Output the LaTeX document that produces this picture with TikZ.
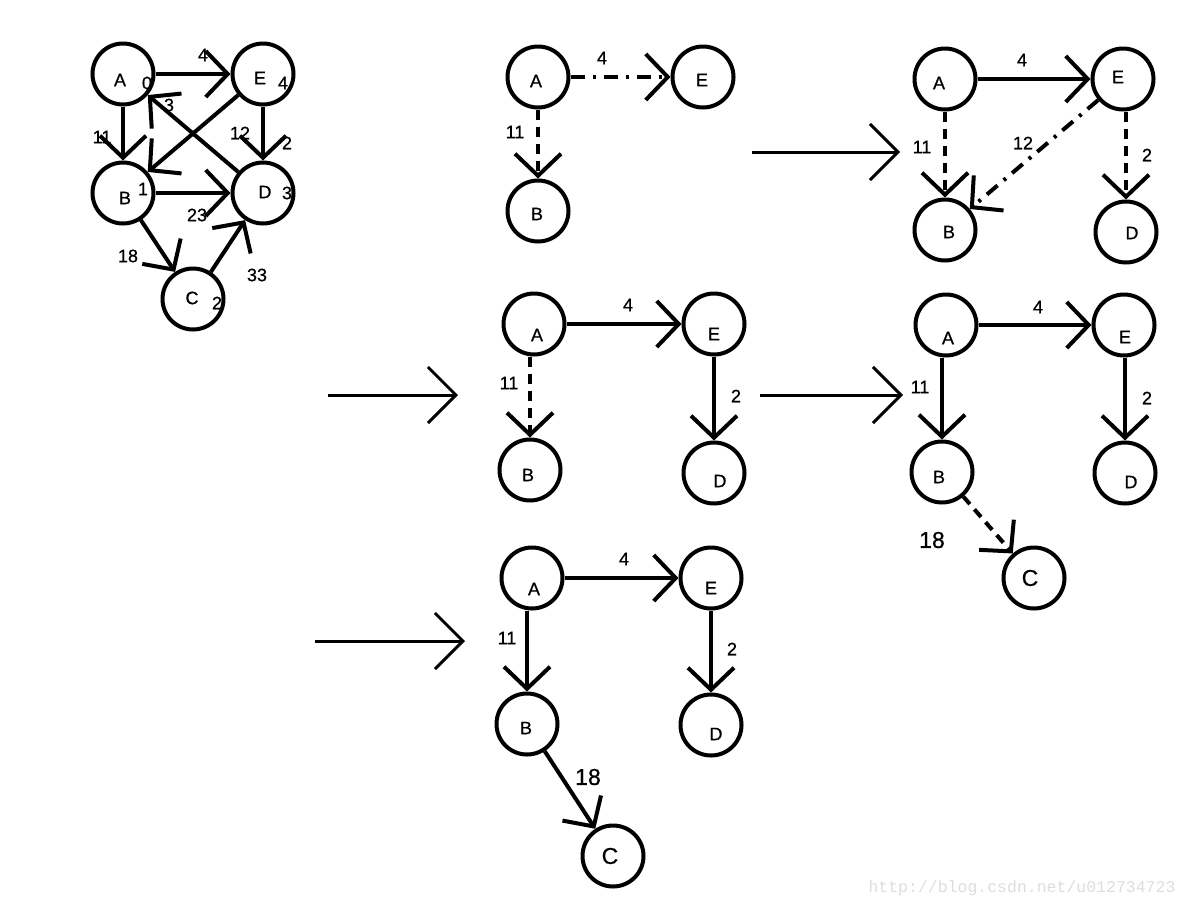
\documentclass[tikz,border=0pt]{standalone}
\usepackage{fontspec}
\setmainfont{Liberation Sans}
\newfontfamily\labfont{Liberation Sans}[FakeBold=0.7]
\newfontfamily\wmfont{Liberation Mono}
\usetikzlibrary{arrows.meta}
\begin{document}
\begin{tikzpicture}[x=1pt,y=-1pt,
  vert/.style={circle,draw,line width=4pt,minimum size=61pt,inner sep=0pt},
  lab/.style={font=\labfont\fontsize{18}{20}\selectfont,inner sep=0pt},
  big/.style={font=\labfont\fontsize{23}{26}\selectfont,inner sep=0pt},
  edge/.style={line width=4pt,-{Straight Barb[length=22pt,width=46pt]}},
  dsh/.style={edge,dash pattern=on 10pt off 7pt},
  dshdot/.style={edge,dash pattern=on 14pt off 8pt on 3pt off 8pt},
  bigarrow/.style={line width=3pt,-{Straight Barb[length=28pt,width=56pt]}}
]
\useasboundingbox (0,0) rectangle (1188,908);
\fill[white] (0,0) rectangle (1188,908);

% ---------- Graph 1 ----------
\node[vert] (A1) at (123,74) {};
\node[vert] (E1) at (263,74) {};
\node[vert] (B1) at (123,193) {};
\node[vert] (D1) at (263,193) {};
\node[vert] (C1) at (193,299) {};
\node[lab] at (120,80) {A};
\node[lab] at (147,83) {0};
\node[lab] at (260,78) {E};
\node[lab] at (283,83) {4};
\node[lab] at (125,198) {B};
\node[lab] at (143,189) {1};
\node[lab] at (265,192) {D};
\node[lab] at (287,193) {3};
\node[lab] at (192,298) {C};
\node[lab] at (217,303) {2};
\draw[edge] (A1) -- (E1);
\draw[edge] (A1) -- (B1);
\draw[edge] (E1) -- (D1);
\draw[edge] (B1) -- (D1);
\draw[edge] (E1) -- (B1);
\draw[edge] (D1) -- (A1);
\draw[edge] (B1) -- (C1);
\draw[edge] (C1) -- (D1);
\node[lab] at (203,55) {4};
\node[lab] at (169,105) {3};
\node[lab] at (102,137) {11};
\node[lab] at (240,133) {12};
\node[lab] at (287,143) {2};
\node[lab] at (197,215) {23};
\node[lab] at (128,256) {18};
\node[lab] at (257,275) {33};

% ---------- Graph 2 ----------
\node[vert] (A2) at (538,77) {};
\node[vert] (E2) at (703,77) {};
\node[vert] (B2) at (538,211) {};
\node[lab] at (536,81) {A};
\node[lab] at (702,80) {E};
\node[lab] at (537,214) {B};
\draw[dshdot] (A2) -- (E2);
\draw[dsh] (A2) -- (B2);
\node[lab] at (602,58) {4};
\node[lab] at (515,132) {11};

% ---------- Arrow 1 ----------
\coordinate (s1) at (752,152);
\coordinate (t1) at (900,152);
\draw[bigarrow] (s1) -- (t1);

% ---------- Graph 3 ----------
\node[vert] (A3) at (945,79) {};
\node[vert] (E3) at (1123,79) {};
\node[vert] (B3) at (945,230) {};
\node[vert] (D3) at (1126,232) {};
\node[lab] at (939,83) {A};
\node[lab] at (1118,77) {E};
\node[lab] at (949,232) {B};
\node[lab] at (1132,233) {D};
\draw[edge] (A3) -- (E3);
\draw[dsh] (A3) -- (B3);
\draw[dshdot] (E3) -- (B3);
\draw[dsh] (E3.south -| D3) -- (D3);
\node[lab] at (1022,60) {4};
\node[lab] at (922,147) {11};
\node[lab] at (1023,143) {12};
\node[lab] at (1147,155) {2};

% ---------- Arrow 2 ----------
\coordinate (s2) at (328,395);
\coordinate (t2) at (458,395);
\draw[bigarrow] (s2) -- (t2);

% ---------- Graph 4 ----------
\node[vert] (A4) at (534,324) {};
\node[vert] (E4) at (714,324) {};
\node[vert] (B4) at (530,470) {};
\node[vert] (D4) at (714,473) {};
\node[lab] at (537,335) {A};
\node[lab] at (714,334) {E};
\node[lab] at (528,475) {B};
\node[lab] at (720,481) {D};
\draw[edge] (A4) -- (E4);
\draw[dsh] (A4.south -| B4) -- (B4);
\draw[edge] (E4) -- (D4);
\node[lab] at (628,305) {4};
\node[lab] at (509,383) {11};
\node[lab] at (736,396) {2};

% ---------- Arrow 3 ----------
\coordinate (s3) at (760,395);
\coordinate (t3) at (903,395);
\draw[bigarrow] (s3) -- (t3);

% ---------- Graph 5 ----------
\node[vert] (A5) at (946,325) {};
\node[vert] (E5) at (1124,325) {};
\node[vert] (B5) at (942,472) {};
\node[vert] (D5) at (1125,473) {};
\node[vert] (C5) at (1034,578) {};
\node[lab] at (948,338) {A};
\node[lab] at (1125,337) {E};
\node[lab] at (939,477) {B};
\node[lab] at (1131,482) {D};
\node[big] at (1030,578) {C};
\draw[edge] (A5) -- (E5);
\draw[edge] (A5.south -| B5) -- (B5);
\draw[edge] (E5.south -| D5) -- (D5);
\draw[dsh] (B5) -- (C5);
\node[lab] at (1038,307) {4};
\node[lab] at (920,387) {11};
\node[lab] at (1147,398) {2};
\node[big] at (932,540) {18};

% ---------- Arrow 4 ----------
\coordinate (s4) at (315,641);
\coordinate (t4) at (465,641);
\draw[bigarrow] (s4) -- (t4);

% ---------- Graph 6 ----------
\node[vert] (A6) at (532,578) {};
\node[vert] (E6) at (711,578) {};
\node[vert] (B6) at (527,724) {};
\node[vert] (D6) at (711,725) {};
\node[vert] (C6) at (613,856) {};
\node[lab] at (534,589) {A};
\node[lab] at (711,588) {E};
\node[lab] at (526,728) {B};
\node[lab] at (716,734) {D};
\node[big] at (610,856) {C};
\draw[edge] (A6) -- (E6);
\draw[edge] (A6.south -| B6) -- (B6);
\draw[edge] (E6) -- (D6);
\draw[edge] (B6) -- (C6);
\node[lab] at (624,559) {4};
\node[lab] at (507,638) {11};
\node[lab] at (732,649) {2};
\node[big] at (588,777) {18};

% ---------- watermark ----------
\node[inner sep=0pt,text=black!13,font=\wmfont\fontsize{16.5}{18}\selectfont] (wm) at (1022,888) {http://blog.csdn.net/u012734723};
\end{tikzpicture}
\end{document}
